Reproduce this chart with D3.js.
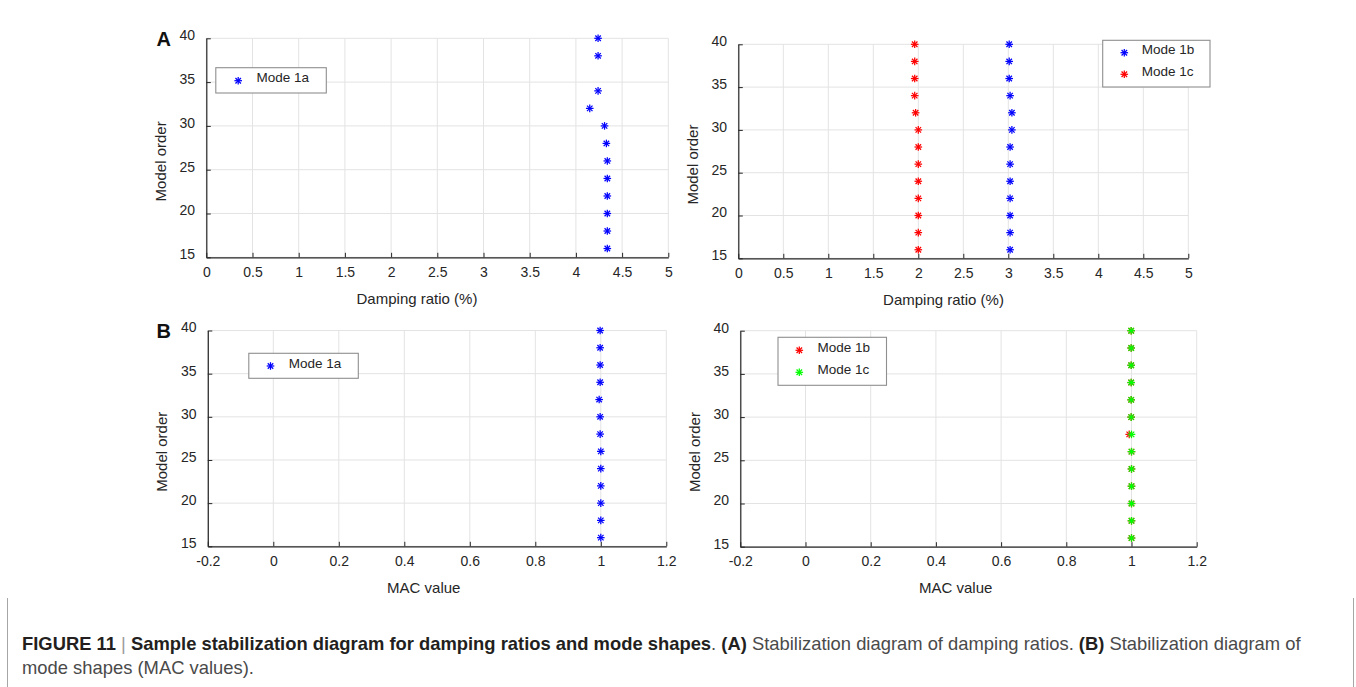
<!DOCTYPE html>
<html>
<head>
<meta charset="utf-8">
<script src="https://cdn.jsdelivr.net/npm/d3@7"></script>
<style>
  html, body { margin: 0; padding: 0; background: #ffffff; }
  svg { display: block; }
  text { font-family: "Liberation Sans", Arial, Helvetica, sans-serif; }
</style>
</head>
<body>
<svg id="fig" width="1356" height="687"></svg>
<script>
// ---- data -----------------------------------------------------------
const orders = [40, 38, 36, 34, 32, 30, 28, 26, 24, 22, 20, 18, 16];
const mode1aOrders = [40, 38, 34, 32, 30, 28, 26, 24, 22, 20, 18, 16];

// damping ratios (%)
const mode1aDamping = [4.24, 4.24, 4.24, 4.15, 4.31, 4.33, 4.34, 4.34, 4.34, 4.34, 4.34, 4.34];
const mode1bDamping = [3.01, 3.01, 3.01, 3.02, 3.04, 3.04, 3.02, 3.02, 3.02, 3.02, 3.02, 3.02, 3.02];
const mode1cDamping = [1.96, 1.96, 1.96, 1.96, 1.97, 2.0, 2.0, 2.0, 2.0, 2.0, 2.0, 2.0, 2.0];

// MAC values
const mode1aMAC = [0.998, 0.998, 0.998, 0.998, 0.995, 0.998, 0.998, 1.0, 1.0, 1.0, 1.0, 1.0, 1.0];
const mode1bMAC = [0.999, 0.999, 0.999, 0.999, 0.999, 0.999, 0.993, 1.0, 1.0, 1.0, 1.0, 1.0, 1.0];
const mode1cMAC = [0.999, 0.999, 0.999, 0.999, 0.999, 0.999, 1.0, 1.0, 1.0, 1.0, 1.0, 1.0, 1.0];

// tick labels
const dampingTicks = [0, 0.5, 1, 1.5, 2, 2.5, 3, 3.5, 4, 4.5, 5];
const macTicks = [-0.2, 0, 0.2, 0.4, 0.6, 0.8, 1, 1.2];
const orderTicks = [15, 20, 25, 30, 35, 40];

const BLUE = "#0000ff", RED = "#ff0000", GREEN = "#00ff00";
const INK = "#262626";

// ---- layout ---------------------------------------------------------
const panels = [
  { letter: "A", box: [206.3, 668.3, 38.3, 257.3], xDomain: [0, 5], xTicks: dampingTicks,
    xLabel: "Damping ratio (%)", xLabelFrac: 0.456,
    series: [{ name: "Mode 1a", color: BLUE, x: mode1aDamping, y: mode1aOrders }],
    legend: { box: [215.8, 326.3, 67.7, 93], marker: 238.2, text: 256.4, rows: [80.7] } },
  { letter: null, box: [738.3, 1188.3, 44.3, 258.3], xDomain: [0, 5], xTicks: dampingTicks,
    xLabel: "Damping ratio (%)", xLabelFrac: 0.456,
    series: [{ name: "Mode 1b", color: BLUE, x: mode1bDamping, y: orders },
             { name: "Mode 1c", color: RED, x: mode1cDamping, y: orders }],
    legend: { box: [1102.7, 1210, 40.3, 87], marker: 1124.3, text: 1141.7, rows: [52.7, 74.3] } },
  { letter: "B", box: [207.8, 666.3, 330.5, 546.3], xDomain: [-0.2, 1.2], xTicks: macTicks,
    xLabel: "MAC value", xLabelFrac: 0.471,
    series: [{ name: "Mode 1a", color: BLUE, x: mode1aMAC, y: orders }],
    legend: { box: [248.8, 358.3, 353.3, 378.3], marker: 270.5, text: 288.8, rows: [366] } },
  { letter: null, box: [740.3, 1196.7, 330.7, 546.7], xDomain: [-0.2, 1.2], xTicks: macTicks,
    xLabel: "MAC value", xLabelFrac: 0.472,
    series: [{ name: "Mode 1b", color: RED, x: mode1bMAC, y: orders },
             { name: "Mode 1c", color: GREEN, x: mode1cMAC, y: orders }],
    legend: { box: [778, 886.5, 337.3, 385.3], marker: 799.3, text: 817.6, rows: [350.3, 372.3] } }
];

const svg = d3.select("#fig");

// asterisk marker: a plus sign overlaid with a cross
function asterisk(sel, r, color) {
  const d = r * 0.72;
  const segs = [[-r, 0, r, 0], [0, -r, 0, r], [-d, -d, d, d], [-d, d, d, -d]];
  sel.selectAll("line").data(segs).join("line")
    .attr("x1", s => s[0]).attr("y1", s => s[1])
    .attr("x2", s => s[2]).attr("y2", s => s[3])
    .attr("stroke", color).attr("stroke-width", 1.25);
}

panels.forEach(p => {
  const [L, R, T, B] = p.box;
  const x = d3.scaleLinear().domain(p.xDomain).range([L, R]);
  const y = d3.scaleLinear().domain([15, 40]).range([B, T]);
  const g = svg.append("g");

  // grid
  g.append("g").selectAll("line").data(p.xTicks).join("line")
    .attr("x1", d => x(d)).attr("x2", d => x(d)).attr("y1", T).attr("y2", B)
    .attr("stroke", "#e3e3e3").attr("stroke-width", 1);
  g.append("g").selectAll("line").data(orderTicks).join("line")
    .attr("x1", L).attr("x2", R).attr("y1", d => y(d)).attr("y2", d => y(d))
    .attr("stroke", "#e3e3e3").attr("stroke-width", 1);

  // axes
  const fmt = d => String(d);
  const xa = g.append("g").attr("transform", `translate(0,${B})`)
    .call(d3.axisBottom(x).tickValues(p.xTicks).tickFormat(fmt).tickSizeInner(-4.5).tickSizeOuter(0).tickPadding(9.5));
  const ya = g.append("g").attr("transform", `translate(${L},0)`)
    .call(d3.axisLeft(y).tickValues(orderTicks).tickFormat(fmt).tickSizeInner(-4.5).tickSizeOuter(0).tickPadding(11.3));
  [xa, ya].forEach(a => {
    a.select(".domain").attr("stroke", INK).attr("stroke-width", 1.2);
    a.selectAll(".tick line").attr("stroke", INK).attr("stroke-width", 1);
    a.selectAll(".tick text").attr("fill", INK).attr("font-size", 14)
      .attr("font-family", "'Liberation Sans', Arial, sans-serif");
  });
  ya.selectAll(".tick text").attr("dy", "0.1em");

  // axis labels
  g.append("text").attr("x", L + p.xLabelFrac * (R - L)).attr("y", B + 46.5)
    .attr("text-anchor", "middle").attr("font-size", 15).attr("fill", INK).text(p.xLabel);
  const ly = T + 0.562 * (B - T);
  g.append("text").attr("transform", `translate(${L - 40.8},${ly}) rotate(-90)`)
    .attr("text-anchor", "middle").attr("font-size", 15).attr("fill", INK).text("Model order");

  // panel letter
  if (p.letter) {
    g.append("text").attr("x", 156.5).attr("y", T + 7.2)
      .attr("font-size", 20).attr("font-weight", "bold").attr("fill", "#111").text(p.letter);
  }

  // data markers
  p.series.forEach(s => {
    const pts = s.x.map((v, i) => ({ v, o: s.y[i] }));
    g.append("g").selectAll("g").data(pts).join("g")
      .attr("transform", d => `translate(${x(d.v)},${y(d.o)})`)
      .each(function () { asterisk(d3.select(this), 3.8, s.color); });
  });

  // legend
  const lg = p.legend;
  g.append("rect").attr("x", lg.box[0]).attr("y", lg.box[2])
    .attr("width", lg.box[1] - lg.box[0]).attr("height", lg.box[3] - lg.box[2])
    .attr("fill", "#ffffff").attr("stroke", "#8f8f8f").attr("stroke-width", 1.1);
  p.series.forEach((s, i) => {
    const ry = lg.rows[i];
    g.append("g").attr("transform", `translate(${lg.marker},${ry})`)
      .call(sel => asterisk(sel, 3.8, s.color));
    g.append("text").attr("x", lg.text).attr("y", ry + 1.6)
      .attr("font-size", 13.5).attr("fill", INK).text(s.name);
  });
});

// ---- caption --------------------------------------------------------
svg.append("line").attr("x1", 7.5).attr("x2", 7.5).attr("y1", 598).attr("y2", 687)
  .attr("stroke", "#a6a6a6").attr("stroke-width", 1);
svg.append("line").attr("x1", 1353.5).attr("x2", 1353.5).attr("y1", 598).attr("y2", 687)
  .attr("stroke", "#a6a6a6").attr("stroke-width", 1);

const capFont = "'Liberation Sans Narrow', 'Arial Narrow', 'Liberation Sans', Arial, sans-serif";
const line1 = [
  { t: "FIGURE 11", b: true },
  { t: " | ", b: false, bar: true },
  { t: "Sample stabilization diagram for damping ratios and mode shapes", b: true },
  { t: ". ", b: false },
  { t: "(A)", b: true },
  { t: " Stabilization diagram of damping ratios. ", b: false },
  { t: "(B)", b: true },
  { t: " Stabilization diagram of", b: false }
];
const line2 = [{ t: "mode shapes (MAC values).", b: false }];

// caption lines are set in a tall face and compressed horizontally to the column width
function captionLine(parts) {
  const t = svg.append("text").attr("x", 0).attr("y", 0)
    .attr("font-family", capFont).attr("font-size", 18);
  parts.forEach(p => {
    t.append("tspan").text(p.t)
      .attr("font-weight", p.b ? "bold" : "normal")
      .attr("fill", p.bar ? "#9a9a9a" : (p.b ? "#231f20" : "#4a4a4a"));
  });
  return t;
}
const c1 = captionLine(line1);
const c2 = captionLine(line2);
const w1 = c1.node().getComputedTextLength();
const sx = (1301 - 22) / w1;
c1.attr("transform", `translate(22,650) scale(${sx},1)`);
c2.attr("transform", `translate(22,674) scale(${sx},1)`);
</script>
</body>
</html>
